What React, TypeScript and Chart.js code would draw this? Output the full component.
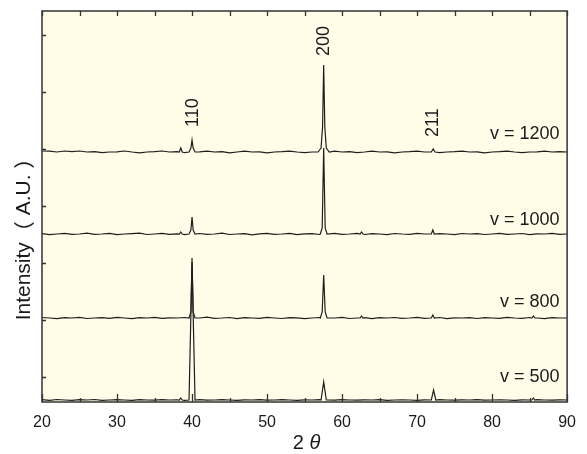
import React, { useEffect, useRef } from "react";
import { Chart, registerables } from "chart.js";

Chart.register(...registerables);

// Sampled 2θ positions for the background of each pattern
const baseAngles = [
  20, 21, 22, 23, 24, 25, 26, 27, 28, 29,
  30, 31, 32, 33, 34, 35, 36, 37, 38, 39,
  40, 41, 42, 43, 44, 45, 46, 47, 48, 49,
  50, 51, 52, 53, 54, 55, 56, 57, 58, 59,
  60, 61, 62, 63, 64, 65, 66, 67, 68, 69,
  70, 71, 72, 73, 74, 75, 76, 77, 78, 79,
  80, 81, 82, 83, 84, 85, 86, 87, 88, 89,
  90,
];

// Background noise of each pattern (A.U., relative to its own baseline)
const noise1200 = [
  1, 0.8, 0, 1, 0.4, 1, 0, 0.3, -0.6, 0,
  0.2, 1, 0, -0.8, 0, 0.4, 1, 0, 0.3, -0.7,
  0, 0.2, 0.9, 0, 0.3, -0.8, 0, 0.8, 0, 0.2,
  -0.8, 0, 0.3, 0.9, 0, -0.7, 0, 0.2, 0, 0.8,
  0, 0.3, -0.7, 0, 0.9, 0, 0.2, -0.8, 0, 0.3,
  0.8, 0, 0.2, -0.7, 0, 0.3, 0.8, 0, 0.2, -0.8,
  0, 0.3, 0.9, 0, -0.7, 0, 0.2, 0.8, 0, 0.3,
  0,
];
const noise1000 = [
  0.3, -0.6, 0, 0.7, -0.4, 0, 0.8, -0.3, 0, 0.6,
  -0.7, 0, 0.4, 0.9, -0.5, 0, 0.6, -0.3, 0.2, -0.6,
  0, 0.5, -0.4, 0, 0.8, -0.5, 0, 0.4, -0.8, 0.2,
  0.6, -0.3, 0, 0.7, -0.6, 0.2, 0.4, -0.5, 0, 0.6,
  -0.4, 0, 0.7, -0.5, 0.3, 0, -0.6, 0.5, 0, -0.3,
  0.6, 0, -0.5, 0.4, 0, -0.7, 0.5, 0, 0.3, -0.5,
  0, 0.6, -0.4, 0, 0.5, -0.6, 0.2, 0, 0.6, -0.4,
  0,
];
const noise800 = [
  0.5, 0, -0.6, 0.4, 0, 0.7, -0.5, 0, 0.4, -0.3,
  0.6, 0, -0.7, 0.3, 0, 0.6, -0.4, 0.2, 0, 0.5,
  -0.6, 0, 0.8, -0.3, 0, 0.5, -0.6, 0.3, 0, -0.4,
  0.6, 0, -0.5, 0.4, 0.2, -0.6, 0, 0.5, -0.3, 0,
  0.6, -0.5, 0, 0.4, -0.6, 0.3, 0, 0.5, -0.4, 0,
  0.6, -0.3, 0, 0.5, -0.6, 0.2, 0, 0.4, -0.5, 0.3,
  0, -0.4, 0.6, 0, -0.3, 0.5, 0, -0.6, 0.3, 0,
  0,
];
const noise500 = [
  0.4, -0.3, 0.5, 0, -0.4, 0.3, 0, 0.5, -0.3, 0,
  0.3, 0, -0.3, 0.4, 0, -0.2, 0.3, 0, 0.2, -0.3,
  0, 0.3, -0.2, 0, 0.3, 0, -0.3, 0.2, 0, 0.3,
  -0.2, 0, 0.3, 0, -0.3, 0.2, 0, 0.3, 0, -0.2,
  0.3, 0, -0.2, 0.2, 0, 0.3, -0.3, 0, 0.2, 0,
  -0.3, 0.2, 0, 0.3, 0, -0.2, 0.2, 0, 0.3, -0.2,
  0, 0.2, 0, -0.3, 0.2, 0, 0.3, 0, -0.2, 0.2,
  0,
];

// Diffraction peaks: [2θ, intensity above baseline]
const peaks1200 = [
  [[38.3, 0], [38.5, 4], [38.7, 0]],
  [[39.6, 0], [39.85, 4], [40.0, 12], [40.15, 4], [40.4, 0]],
  [[56.8, 0], [57.2, 4], [57.4, 25], [57.55, 87], [57.7, 25], [57.9, 4], [58.3, 0]],
  [[71.9, 0], [72.15, 3], [72.4, 0]],
];
const peaks1000 = [
  [[38.3, 0], [38.5, 2], [38.7, 0]],
  [[39.6, 0], [39.85, 4], [40.0, 17], [40.15, 4], [40.4, 0]],
  [[57.1, 0], [57.35, 6], [57.55, 86], [57.75, 6], [58.0, 0]],
  [[62.4, 0], [62.6, 2], [62.8, 0]],
  [[71.9, 0], [72.1, 4], [72.3, 0]],
];
const peaks800 = [
  [[39.6, 0], [39.85, 6], [40.0, 60], [40.15, 6], [40.4, 0]],
  [[57.1, 0], [57.35, 6], [57.55, 43], [57.75, 6], [58.0, 0]],
  [[62.4, 0], [62.6, 2], [62.8, 0]],
  [[71.9, 0], [72.1, 3], [72.3, 0]],
  [[85.3, 0], [85.5, 2], [85.7, 0]],
];
const peaks500 = [
  [[38.3, 0], [38.5, 2], [38.7, 0]],
  [[39.6, 0], [40.0, 138], [40.4, 0]],
  [[57.2, 0], [57.55, 18], [57.9, 0]],
  [[71.9, 0], [72.2, 10], [72.5, 0]],
  [[85.3, 0], [85.5, 2], [85.7, 0]],
];

// Vertical stacking offsets of the four patterns
const offsets = { v500: -23, v800: 59, v1000: 143, v1200: 225 };

// Miller-index annotations: [label, 2θ, intensity where the text starts]
const peakLabels: [string, number, number][] = [
  ["110", 40.1, 250],
  ["200", 57.55, 321],
  ["211", 72.1, 240],
];

// Scan-speed labels: [label, intensity of text centre]
const speedLabels: [string, number][] = [
  ["v = 1200", 243],
  ["v = 1000", 157],
  ["v = 800", 75],
  ["v = 500", 0],
];

const xTickValues = [20, 25, 30, 35, 40, 45, 50, 55, 60, 65, 70, 75, 80, 85, 90];
const yTickValues = [0, 57, 114, 171, 228, 285, 342];

const SANS = '"Liberation Sans", Arial, sans-serif';
const CJK = '"Noto Sans CJK JP", sans-serif';

function buildTrace(noise: number[], peaks: number[][][], offset: number) {
  const pts: { x: number; y: number }[] = [];
  baseAngles.forEach((x, i) => {
    const inPeak = peaks.some((p) => x >= p[0][0] && x <= p[p.length - 1][0]);
    if (!inPeak) pts.push({ x, y: offset + noise[i] });
  });
  peaks.forEach((p) => p.forEach(([x, dy]) => pts.push({ x, y: offset + dy })));
  pts.sort((a, b) => a.x - b.x);
  return pts;
}

// Draws a run of text pieces, each with its own font, centred on (0, 0)
function drawPieces(ctx: CanvasRenderingContext2D, pieces: [string, string][]) {
  const widths = pieces.map(([t, f]) => {
    ctx.font = f;
    return ctx.measureText(t).width;
  });
  const total = widths.reduce((s, w) => s + w, 0);
  let x = -total / 2;
  ctx.textAlign = "left";
  pieces.forEach(([t, f], i) => {
    ctx.font = f;
    ctx.fillText(t, x, 0);
    x += widths[i];
  });
}

const framePlugin = {
  id: "xrdFrame",
  beforeDraw(chart: any) {
    const { ctx, chartArea: a } = chart;
    ctx.save();
    ctx.fillStyle = "#fffde8";
    ctx.fillRect(a.left, a.top, a.right - a.left, a.bottom - a.top);
    ctx.restore();
  },
  afterDraw(chart: any) {
    const { ctx, chartArea: a } = chart;
    const xs = chart.scales.x;
    const ys = chart.scales.y;
    ctx.save();
    // frame
    ctx.strokeStyle = "#333";
    ctx.lineWidth = 1.5;
    ctx.strokeRect(a.left, a.top, a.right - a.left, a.bottom - a.top);
    // inward ticks
    ctx.lineWidth = 1.3;
    ctx.beginPath();
    xTickValues.forEach((v) => {
      const px = Math.round(xs.getPixelForValue(v)) + 0.5;
      const len = v % 10 === 0 ? 8 : 4;
      ctx.moveTo(px, a.bottom);
      ctx.lineTo(px, a.bottom - len);
      ctx.moveTo(px, a.top);
      ctx.lineTo(px, a.top + 5);
    });
    yTickValues.forEach((v) => {
      const py = Math.round(ys.getPixelForValue(v)) + 0.5;
      ctx.moveTo(a.left, py);
      ctx.lineTo(a.left + 4, py);
    });
    ctx.stroke();

    ctx.fillStyle = "#1a1a1a";
    // peak indices
    ctx.font = `18px ${SANS}`;
    ctx.textAlign = "left";
    ctx.textBaseline = "middle";
    peakLabels.forEach(([t, x, y]) => {
      ctx.save();
      ctx.translate(xs.getPixelForValue(x), ys.getPixelForValue(y));
      ctx.rotate(-Math.PI / 2);
      ctx.fillText(t, 0, 0);
      ctx.restore();
    });
    // speed labels
    ctx.textAlign = "right";
    speedLabels.forEach(([t, y]) => {
      ctx.fillText(t, xs.getPixelForValue(89), ys.getPixelForValue(y));
    });
    // y-axis title with full-width brackets
    ctx.save();
    ctx.translate(24, 234);
    ctx.rotate(-Math.PI / 2);
    const yt = `21px ${SANS}`;
    const yb = `21px ${CJK}`;
    drawPieces(ctx, [
      ["Intensity", yt],
      ["（", yb],
      [" A.U. ", yt],
      ["）", yb],
    ]);
    ctx.restore();
    // x-axis title: "2 θ" with italic theta
    ctx.save();
    ctx.translate((a.left + a.right) / 2 + 2, 443);
    drawPieces(ctx, [
      ["2 ", `20px ${SANS}`],
      ["θ", `italic 20px ${SANS}`],
    ]);
    ctx.restore();
    ctx.restore();
  },
};

export default function App() {
  const ref = useRef<HTMLCanvasElement | null>(null);

  useEffect(() => {
    if (!ref.current) return;
    const lineStyle = {
      borderColor: "#1e1e1e",
      borderWidth: 1.2,
      pointRadius: 0,
      tension: 0,
      fill: false,
    };
    const chart = new Chart(ref.current, {
      type: "line",
      data: {
        datasets: [
          { label: "v = 1200", data: buildTrace(noise1200, peaks1200, offsets.v1200), ...lineStyle },
          { label: "v = 1000", data: buildTrace(noise1000, peaks1000, offsets.v1000), ...lineStyle },
          { label: "v = 800", data: buildTrace(noise800, peaks800, offsets.v800), ...lineStyle },
          { label: "v = 500", data: buildTrace(noise500, peaks500, offsets.v500), ...lineStyle },
        ],
      },
      options: {
        responsive: false,
        animation: false,
        layout: { padding: { top: 11, right: 14, left: 0, bottom: 0 } },
        plugins: { legend: { display: false }, tooltip: { enabled: false } },
        scales: {
          x: {
            type: "linear",
            min: 20,
            max: 90,
            grid: { display: false, drawTicks: false },
            border: { display: false },
            ticks: {
              stepSize: 5,
              autoSkip: false,
              maxRotation: 0,
              padding: 11,
              color: "#1a1a1a",
              font: { family: SANS, size: 16 },
              callback: (v: any) => (Number(v) % 10 === 0 ? String(v) : ""),
            },
            afterFit: (s: any) => {
              s.height = 52;
            },
          },
          y: {
            type: "linear",
            min: -25,
            max: 366,
            grid: { display: false, drawTicks: false },
            border: { display: false },
            ticks: { display: false },
            afterFit: (s: any) => {
              s.width = 42;
            },
          },
        },
      },
      plugins: [framePlugin],
    } as any);
    return () => chart.destroy();
  }, []);

  return (
    <canvas
      ref={ref}
      width={587}
      height={454}
      style={{ position: "absolute", left: 0, top: 0, display: "block" }}
    />
  );
}
